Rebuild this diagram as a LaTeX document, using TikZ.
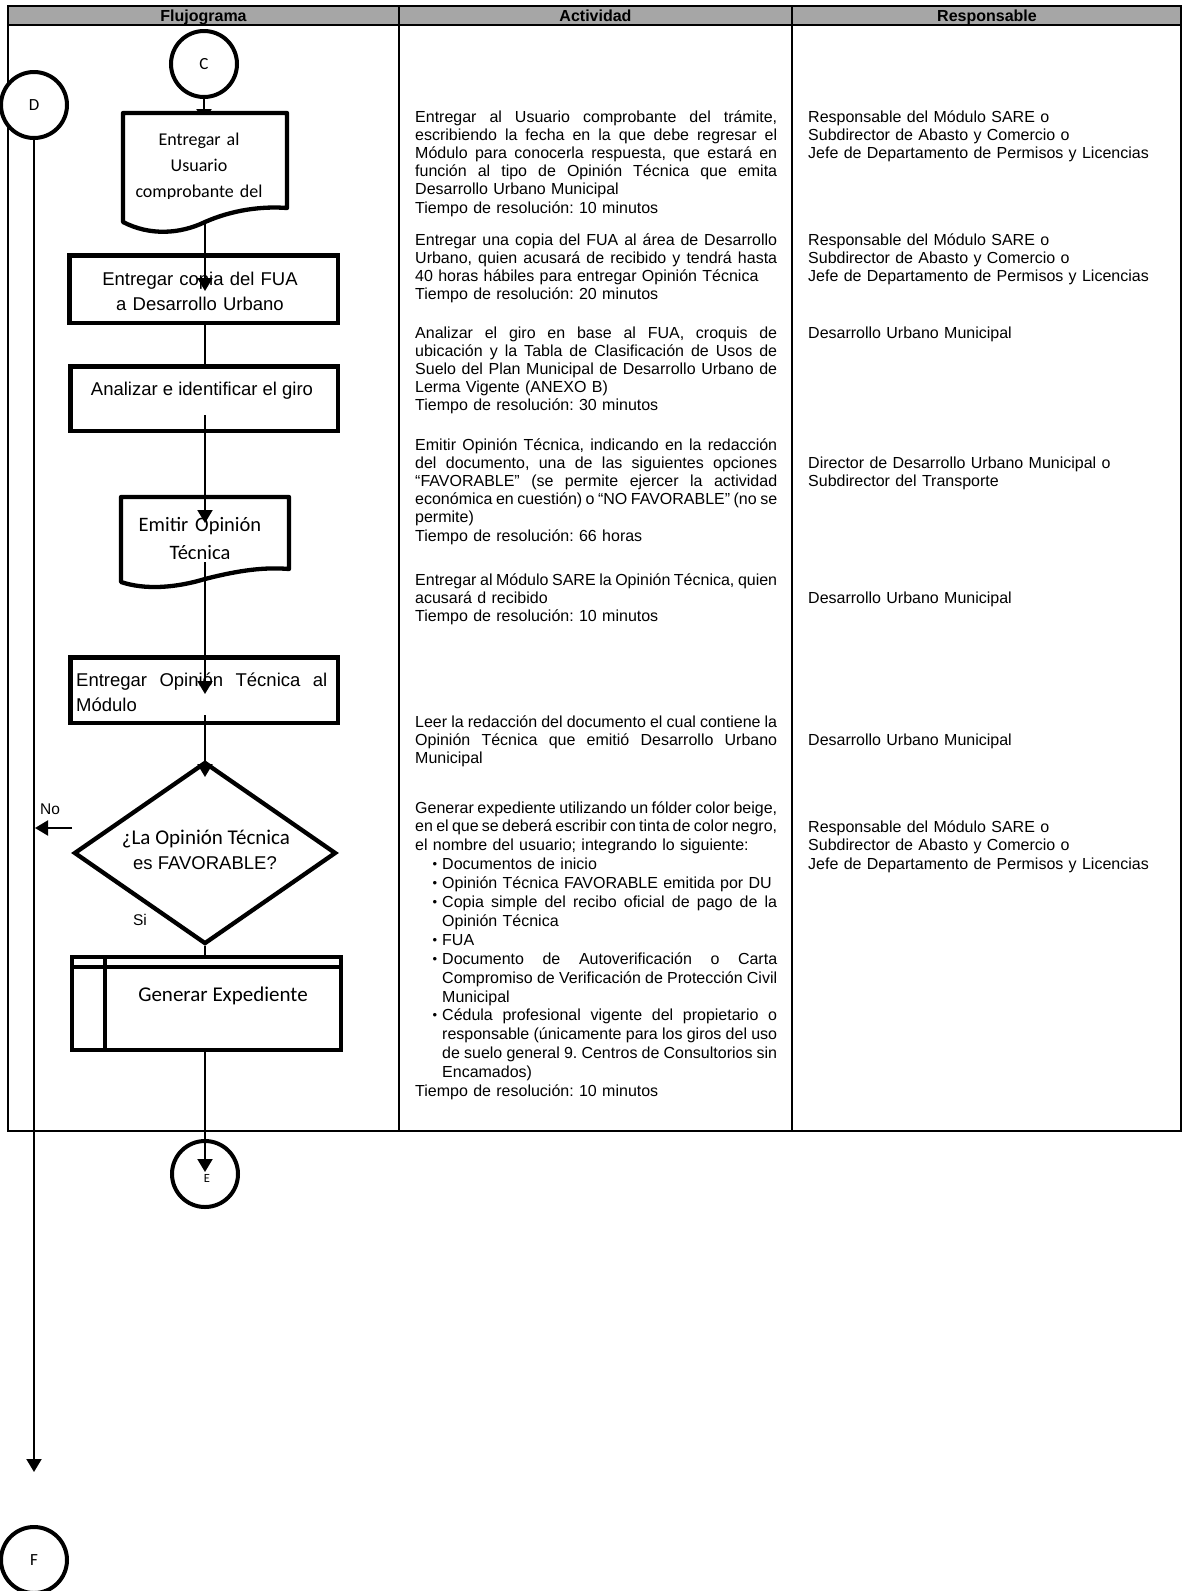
\documentclass[tikz,border=0pt]{standalone}
\usepackage{fontspec}
\setmainfont{Liberation Sans}
\newfontfamily\calfont{Carlito}
\usetikzlibrary{arrows.meta,shapes.geometric}
\definecolor{hdr}{RGB}{166,166,166}
\frenchspacing
\setlength\parindent{0pt}
\newdimen\colw \colw=362pt
\newcommand\jsp{\spaceskip=0.278em plus 1fil minus 0.09em\relax}
\newcommand\jline[1]{\hbox to\colw{\jsp#1}\break}
\newcommand\nline[1]{\hbox to\colw{#1\hfil}\break}
\newcommand\bulx{\hbox to27pt{\hfil\raise1pt\hbox{\fontsize{13}{13}\selectfont\textbullet}\hskip5pt}}
\newcommand\bline[1]{\hbox to\colw{\bulx#1\hfil}\break}
\newcommand\bjline[1]{\hbox to\colw{\jsp\bulx#1}\break}
\newcommand\ijline[1]{\hbox to\colw{\jsp\hskip27pt #1}\break}
\newcommand\iline[1]{\hbox to\colw{\hskip27pt #1\hfil}\break}
\begin{document}
\begin{tikzpicture}[x=1pt,y=-1pt,
  tbl/.style={line width=2pt},
  hd/.style={font=\bfseries\fontsize{16}{16}\selectfont, inner sep=0, anchor=base},
  act/.style={anchor=base west, text width=362pt, inner sep=0, align=left, font=\fontsize{16}{18.2}\selectfont},
  resp/.style={anchor=base west, text width=370pt, inner sep=0, align=left, font=\fontsize{16}{18.2}\selectfont},
  conn/.style={circle, draw, line width=4pt, minimum size=66pt, inner sep=0, fill=white, font=\calfont\fontsize{17}{17}\selectfont},
  box/.style={draw, line width=4.5pt, fill=white, inner sep=0},
  docsh/.style={draw, line width=4.3pt, fill=white, line join=round},
  ctext/.style={font=\calfont\fontsize{18}{26}\selectfont, text width=160pt, align=center, inner sep=0, anchor=base},
  atext/.style={font=\fontsize{18.5}{25}\selectfont, inner sep=0, anchor=base},
  flow/.style={line width=2pt, -{Triangle[width=15pt,length=13pt]}},
  plain/.style={line width=2pt},
  lbl/.style={font=\fontsize{15.5}{15.5}\selectfont, inner sep=0}]
\useasboundingbox (0,0) rectangle (1182,1591);

% table
\fill[hdr] (8,6) rectangle (1181,25);
\draw[tbl] (8,6) rectangle (1181,1131);
\draw[tbl] (8,25) -- (1181,25);
\draw[tbl] (399,6) -- (399,1131);
\draw[tbl] (792,6) -- (792,1131);
\node[hd] (h1) at (203.5,21) {Flujograma};
\node[hd] (h2) at (595.5,21) {Actividad};
\node[hd] (h3) at (987,21) {Responsable};

% Actividad
\node[act] (a1) at (415,122) {%
\jline{Entregar al Usuario comprobante del trámite,}
\jline{escribiendo la fecha en la que debe regresar el}
\jline{Módulo para conocerla respuesta, que estará en}
\jline{función al tipo de Opinión Técnica que emita}
\nline{Desarrollo Urbano Municipal}
\nline{Tiempo de resolución: 10 minutos}};
\node[act] (a2) at (415,245) {%
\jline{Entregar una copia del FUA al área de Desarrollo}
\jline{Urbano, quien acusará de recibido y tendrá hasta}
\nline{40 horas hábiles para entregar Opinión Técnica}
\nline{Tiempo de resolución: 20 minutos}};
\node[act] (a3) at (415,338) {%
\jline{Analizar el giro en base al FUA, croquis de}
\jline{ubicación y la Tabla de Clasificación de Usos de}
\jline{Suelo del Plan Municipal de Desarrollo Urbano de}
\nline{Lerma Vigente (ANEXO B)}
\nline{Tiempo de resolución: 30 minutos}};
\node[act] (a4) at (415,450) {%
\jline{Emitir Opinión Técnica, indicando en la redacción}
\jline{del documento, una de las siguientes opciones}
\jline{“FAVORABLE” (se permite ejercer la actividad}
\jline{económica en cuestión) o “NO FAVORABLE” (no se}
\nline{permite)}
\nline{Tiempo de resolución: 66 horas}};
\node[act] (a5) at (415,585) {%
\jline{Entregar al Módulo SARE la Opinión Técnica, quien}
\nline{acusará d recibido}
\nline{Tiempo de resolución: 10 minutos}};
\node[act] (a6) at (415,727) {%
\jline{Leer la redacción del documento el cual contiene la}
\jline{Opinión Técnica que emitió Desarrollo Urbano}
\nline{Municipal}};
\node[act, font=\fontsize{16}{18.9}\selectfont] (a7) at (415,813) {%
\jline{Generar expediente utilizando un fólder color beige,}
\jline{en el que se deberá escribir con tinta de color negro,}
\nline{el nombre del usuario; integrando lo siguiente:}
\bline{Documentos de inicio}
\bline{Opinión Técnica FAVORABLE emitida por DU}
\bjline{Copia simple del recibo oficial de pago de la}
\iline{Opinión Técnica}
\bline{FUA}
\bjline{Documento de Autoverificación o Carta}
\ijline{Compromiso de Verificación de Protección Civil}
\iline{Municipal}
\bjline{Cédula profesional vigente del propietario o}
\ijline{responsable (únicamente para los giros del uso}
\ijline{de suelo general 9. Centros de Consultorios sin}
\iline{Encamados)}
\nline{Tiempo de resolución: 10 minutos}};

% Responsable
\node[resp] (r1) at (808,122) {%
\nline{Responsable del Módulo SARE o}
\nline{Subdirector de Abasto y Comercio o}
\nline{Jefe de Departamento de Permisos y Licencias}};
\node[resp] (r2) at (808,245) {%
\nline{Responsable del Módulo SARE o}
\nline{Subdirector de Abasto y Comercio o}
\nline{Jefe de Departamento de Permisos y Licencias}};
\node[resp] (r3) at (808,338) {\nline{Desarrollo Urbano Municipal}};
\node[resp] (r4) at (808,468) {%
\nline{Director de Desarrollo Urbano Municipal o}
\nline{Subdirector del Transporte}};
\node[resp] (r5) at (808,603) {\nline{Desarrollo Urbano Municipal}};
\node[resp] (r6) at (808,745) {\nline{Desarrollo Urbano Municipal}};
\node[resp, font=\fontsize{16}{18.9}\selectfont] (r7) at (808,832) {%
\nline{Responsable del Módulo SARE o}
\nline{Subdirector de Abasto y Comercio o}
\nline{Jefe de Departamento de Permisos y Licencias}};

% flowchart
\coordinate (ax) at (205,0);
\node[conn] (C) at (204,64) {C};
\node[conn] (D) at (34,105) {D};
\coordinate (d1in) at (204,122);
\draw[flow] (C.south) -- (d1in);

% document 1
\draw[docsh] (123,113) -- (287,113) -- (287,208) .. controls (262,206) and (232,210) .. (205,222) .. controls (180,234) and (150,236) .. (123,222) -- cycle;
\begin{scope}
\clip (123,113) rectangle (287,198);
\node[ctext] (doc1) at (199,145.5) {Entregar al\\Usuario\\comprobante del};
\end{scope}

% rect 2
\node[box, minimum width=268.5pt, minimum height=67.5pt] (b2) at (203.5,289) {};
\node[atext, text width=270pt, align=center] (b2t) at (200,285.5) {Entregar copia del FUA\\a Desarrollo Urbano};
% rect 3
\node[box, minimum width=267.5pt, minimum height=64.5pt] (b3) at (204,398.5) {};
\node[atext] (b3t) at (202,395.5) {Analizar e identificar el giro};

% document 2
\draw[docsh] (121,497) -- (289,497) -- (289,569) .. controls (265,567) and (240,570) .. (205,579) .. controls (175,588) and (145,590) .. (121,582) -- cycle;
\begin{scope}
\clip (121,497) rectangle (289,558);
\node[ctext, font=\calfont\fontsize{20.5}{28}\selectfont] (doc2) at (200,531) {Emitir Opinión\\Técnica};
\end{scope}

% rect 4
\node[box, minimum width=267.5pt, minimum height=65.5pt] (b4) at (204,690) {};
\node[atext, anchor=base west, text width=251pt, align=left] (b4t) at (76,686.5) {\colw=251pt\relax\jline{Entregar Opinión Técnica al}\nline{Módulo}};

% decision
\node[diamond, draw, line width=4.3pt, fill=white, minimum width=262pt, minimum height=182pt, inner sep=0] (q) at (205,853) {};
\node[inner sep=0, anchor=base, font=\calfont\fontsize{21}{21}\selectfont] (q1) at (206,844.5) {¿La Opinión Técnica};
\node[inner sep=0, anchor=base, font=\fontsize{18.5}{18.5}\selectfont] (q2) at (205,869.5) {es FAVORABLE?};
\node[lbl] (no) at (50,809) {No};
\node[lbl] (si) at (140,920) {Si};

% predefined process
\node[draw, line width=4pt, fill=white, minimum width=269pt, minimum height=93pt, inner sep=0] (p) at (206.5,1003.5) {};
\draw[line width=4pt] (p.north west |- 0,967) -- (p.north east |- 0,967);
\draw[line width=4pt] (105,0 |- p.north) -- (105,0 |- p.south);
\node[inner sep=0, anchor=base, font=\calfont\fontsize{21}{21}\selectfont] (pt) at (223,1001.5) {Generar Expediente};

\node[conn] (E) at (205,1174) {};
\node[inner sep=0, font=\calfont\fontsize{12.5}{12.5}\selectfont] (El) at (207,1178) {E};
\node[conn] (F) at (34,1560) {F};

% connectors
\coordinate (d1b) at (205,222);
\coordinate (b2in) at (205,291);
\draw[flow] (d1b) -- (b2in);
\draw[plain] (b2.south -| ax) -- (b3.north -| ax);
\coordinate (b3in) at (205,415);
\coordinate (d2in) at (205,523);
\draw[flow] (b3in) -- (d2in);
\coordinate (d2out) at (205,562);
\coordinate (b4in) at (205,694);
\draw[flow] (d2out) -- (b4in);
\coordinate (b4out) at (205,715);
\coordinate (qin) at (205,777);
\draw[flow] (b4out) -- (qin);
\draw[plain] (q.south) -- (p.north -| q.south);
\coordinate (Ein) at (205,1172);
\draw[flow] (p.south -| ax) -- (Ein);
\coordinate (nofrom) at (72,828);
\coordinate (noto) at (35,828);
\draw[flow] (nofrom) -- (noto);
\coordinate (Dend) at (34,1472);
\draw[flow] (D.south) -- (Dend);
\end{tikzpicture}
\end{document}
